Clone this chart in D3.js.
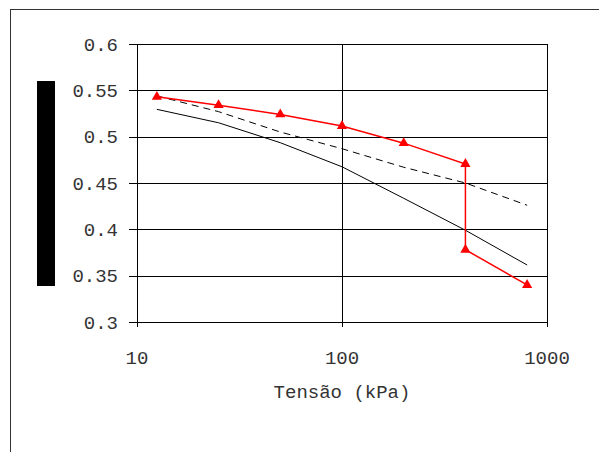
<!DOCTYPE html>
<html><head><meta charset="utf-8">
<script src="https://cdn.jsdelivr.net/npm/d3@7"></script>
<style>body{margin:0;background:#fff}svg{display:block}</style>
</head><body>
<script>
const xTicks = [10, 100, 1000];
const yTicks = [0.3, 0.35, 0.4, 0.45, 0.5, 0.55, 0.6];
const stress = [12.5, 25, 50, 100, 200, 400, 800];
const redX = [12.5, 25, 50, 100, 200, 400, 400, 800];
const redY = [0.543, 0.534, 0.524, 0.5115, 0.493, 0.4705, 0.378, 0.34];
const dashedY = [0.544, 0.527, 0.505, 0.487, 0.467, 0.450, 0.426];
const solidY = [0.5295, 0.515, 0.4935, 0.4675, 0.4335, 0.399, 0.3615];
const xTitle = "Tensão (kPa)";

const W = 599, H = 452;
const svg = d3.select("body").append("svg").attr("width", W).attr("height", H);
const pL = 137, pR = 547, pT = 44, pB = 322;
const x = d3.scaleLog().domain([10, 1000]).range([pL, pR]);
const y = d3.scaleLinear().domain([0.3, 0.6]).range([pB, pT]);
const font = "'Liberation Mono', 'Courier New', monospace";

// outer border
svg.append("rect").attr("x", 10.5).attr("y", 9.5).attr("width", 700).attr("height", 600)
  .attr("fill", "none").attr("stroke", "#333").attr("stroke-width", 1);

// redacted y label
svg.append("rect").attr("x", 37).attr("y", 81).attr("width", 18).attr("height", 205).attr("fill", "#000");

// gridlines
const g = svg.append("g");
g.selectAll("line.h").data(yTicks).join("line")
  .attr("x1", pL - 8).attr("x2", pR)
  .attr("y1", d => Math.round(y(d)) + 0.5).attr("y2", d => Math.round(y(d)) + 0.5)
  .attr("stroke", "#000").attr("stroke-width", 1);
g.selectAll("line.v").data(xTicks).join("line")
  .attr("x1", d => Math.round(x(d)) + 0.5).attr("x2", d => Math.round(x(d)) + 0.5)
  .attr("y1", pT).attr("y2", pB + 5)
  .attr("stroke", "#000").attr("stroke-width", 1);

// y labels
g.selectAll("text.y").data(yTicks).join("text")
  .attr("x", 118).attr("y", d => y(d)).attr("dy", "0.35em")
  .attr("text-anchor", "end").attr("font-family", font).attr("font-size", 19)
  .attr("fill", "#333").text(d => d);
// x labels
g.selectAll("text.x").data(xTicks).join("text")
  .attr("x", d => x(d)).attr("y", 357).attr("dy", "0.35em")
  .attr("text-anchor", "middle").attr("font-family", font).attr("font-size", 19)
  .attr("fill", "#333").text(d => d);
svg.append("text").attr("x", x(100)).attr("y", 391).attr("dy", "0.35em")
  .attr("text-anchor", "middle").attr("font-family", font).attr("font-size", 19)
  .attr("fill", "#333").text(xTitle);

const line = d3.line().x(d => x(d[0])).y(d => y(d[1]));
svg.append("path").datum(d3.zip(stress, solidY)).attr("d", line)
  .attr("fill", "none").attr("stroke", "#000").attr("stroke-width", 1);
svg.append("path").datum(d3.zip(stress, dashedY)).attr("d", line)
  .attr("fill", "none").attr("stroke", "#000").attr("stroke-width", 1).attr("stroke-dasharray", "7,5");
svg.append("path").datum(d3.zip(redX, redY)).attr("d", line)
  .attr("fill", "none").attr("stroke", "#f00").attr("stroke-width", 1.5);
const tri = d3.symbol().type(d3.symbolTriangle).size(45);
svg.selectAll("path.m").data(d3.zip(redX, redY)).join("path")
  .attr("d", tri).attr("transform", d => `translate(${x(d[0])},${y(d[1])})`)
  .attr("fill", "#f00");
</script>
</body></html>
